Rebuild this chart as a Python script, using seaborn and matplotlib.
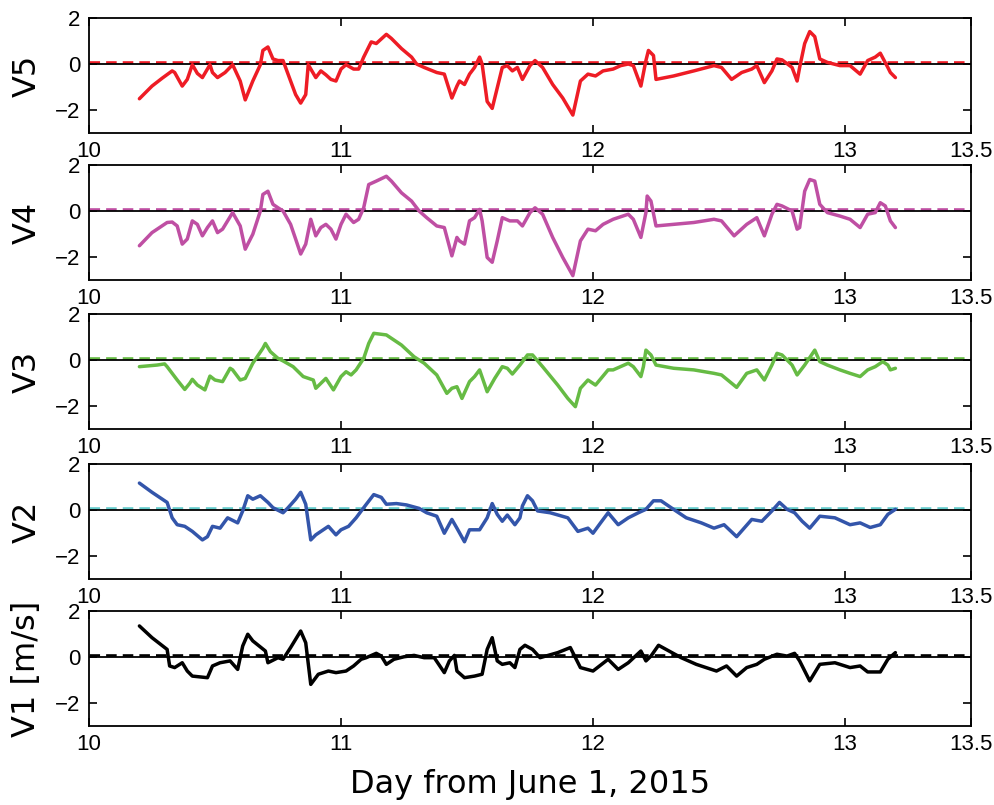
import matplotlib
matplotlib.use("Agg")
import matplotlib.pyplot as plt
import seaborn as sns
import pandas as pd

# ---------------- data (day from June 1, 2015 ; velocity m/s) ----------------
v5_day = [10.20, 10.25, 10.29, 10.33, 10.34, 10.37, 10.39, 10.41, 10.43, 10.45, 10.48, 10.49, 10.51, 10.54,
          10.57, 10.60, 10.62, 10.65, 10.68, 10.69, 10.71, 10.73, 10.75, 10.77, 10.80, 10.82, 10.84, 10.86,
          10.87, 10.90, 10.92, 10.94, 10.96, 10.98, 11.00, 11.02, 11.05, 11.07, 11.09, 11.12, 11.14, 11.18,
          11.20, 11.24, 11.28, 11.30, 11.33, 11.38, 11.41, 11.44, 11.46, 11.47, 11.49, 11.51, 11.53, 11.55,
          11.56, 11.58, 11.60, 11.62, 11.64, 11.66, 11.68, 11.70, 11.72, 11.75, 11.77, 11.80, 11.84, 11.88,
          11.92, 11.95, 11.98, 12.01, 12.04, 12.08, 12.11, 12.14, 12.16, 12.19, 12.21, 12.22, 12.24, 12.25,
          12.32, 12.40, 12.48, 12.51, 12.55, 12.59, 12.63, 12.65, 12.68, 12.71, 12.73, 12.75, 12.79, 12.81,
          12.82, 12.84, 12.86, 12.88, 12.90, 12.93, 12.98, 13.02, 13.06, 13.09, 13.12, 13.14, 13.17, 13.18, 13.20]
v5_val = [-1.51, -0.96, -0.62, -0.30, -0.37, -0.96, -0.67, -0.03, -0.41, -0.59, -0.03, -0.37, -0.59, -0.37,
          -0.03, -0.74, -1.56, -0.74, -0.03, 0.59, 0.74, 0.22, 0.15, 0.15, -0.74, -1.33, -1.70, -1.33,
          -0.03, -0.59, -0.30, -0.47, -0.67, -0.74, -0.22, -0.03, -0.22, -0.22, 0.30, 0.96, 0.89, 1.29,
          1.11, 0.67, 0.30, 0.00, -0.15, -0.37, -0.44, -1.48, -0.96, -0.74, -0.89, -0.44, -0.15, 0.30,
          0.00, -1.63, -1.93, -1.04, -0.15, -0.07, -0.30, -0.15, -0.67, -0.07, 0.15, -0.15, -0.89, -1.48,
          -2.22, -0.74, -0.44, -0.52, -0.30, -0.22, -0.07, 0.00, -0.07, -0.96, 0.15, 0.59, 0.37, -0.67,
          -0.52, -0.30, -0.07, -0.15, -0.67, -0.37, -0.22, -0.07, -0.81, -0.30, 0.22, 0.18, -0.15, -0.74,
          -0.15, 0.89, 1.41, 1.19, 0.22, 0.07, -0.07, -0.07, -0.44, 0.15, 0.30, 0.47, -0.15, -0.37, -0.59]

v4_day = [10.20, 10.25, 10.31, 10.33, 10.35, 10.37, 10.39, 10.41, 10.43, 10.45, 10.47, 10.49, 10.51, 10.53,
          10.57, 10.60, 10.62, 10.65, 10.68, 10.69, 10.71, 10.73, 10.75, 10.77, 10.80, 10.82, 10.84, 10.86,
          10.88, 10.90, 10.92, 10.94, 10.96, 10.98, 11.00, 11.02, 11.05, 11.07, 11.09, 11.11, 11.14, 11.18,
          11.20, 11.24, 11.28, 11.31, 11.34, 11.38, 11.41, 11.44, 11.46, 11.47, 11.49, 11.51, 11.53, 11.55,
          11.56, 11.58, 11.60, 11.62, 11.64, 11.67, 11.70, 11.72, 11.75, 11.77, 11.80, 11.84, 11.88, 11.92,
          11.95, 11.98, 12.01, 12.04, 12.08, 12.14, 12.16, 12.19, 12.21, 12.215, 12.23, 12.25, 12.32, 12.40,
          12.48, 12.51, 12.56, 12.61, 12.65, 12.68, 12.71, 12.73, 12.75, 12.79, 12.81, 12.82, 12.84, 12.86,
          12.88, 12.90, 12.93, 12.98, 13.02, 13.06, 13.09, 13.12, 13.14, 13.16, 13.18, 13.20]
v4_val = [-1.51, -0.94, -0.50, -0.48, -0.65, -1.44, -1.22, -0.43, -0.58, -1.08, -0.72, -0.43, -0.94, -0.79,
          -0.07, -0.65, -1.66, -1.01, 0.00, 0.72, 0.86, 0.29, 0.14, 0.00, -0.58, -1.22, -1.87, -1.44,
          -0.36, -1.08, -0.72, -0.58, -0.79, -1.22, -0.58, -0.14, -0.50, -0.36, 0.14, 1.15, 1.30, 1.51,
          1.30, 0.79, 0.43, 0.00, -0.29, -0.65, -0.72, -1.95, -1.15, -1.30, -1.44, -0.43, -0.29, 0.07,
          -0.43, -2.02, -2.23, -1.30, -0.29, -0.43, -0.43, -0.65, -0.07, 0.14, -0.14, -1.15, -2.02, -2.81,
          -1.30, -0.79, -0.86, -0.58, -0.36, -0.14, -0.36, -1.15, -0.07, 0.65, 0.43, -0.65, -0.58, -0.50,
          -0.36, -0.43, -1.08, -0.58, -0.29, -1.08, -0.14, 0.29, 0.22, 0.00, -0.79, -0.72, 0.86, 1.37,
          1.30, 0.29, -0.07, -0.22, -0.36, -0.72, -0.14, -0.07, 0.36, 0.22, -0.43, -0.72]

v3_day = [10.20, 10.23, 10.27, 10.30, 10.31, 10.35, 10.38, 10.40, 10.41, 10.43, 10.46, 10.48, 10.50, 10.53,
          10.56, 10.57, 10.60, 10.62, 10.65, 10.69, 10.70, 10.72, 10.75, 10.77, 10.81, 10.85, 10.89, 10.90,
          10.94, 10.97, 11.00, 11.02, 11.04, 11.06, 11.09, 11.11, 11.13, 11.18, 11.24, 11.29, 11.33, 11.38,
          11.42, 11.44, 11.46, 11.48, 11.51, 11.53, 11.55, 11.58, 11.61, 11.64, 11.66, 11.68, 11.71, 11.74,
          11.76, 11.80, 11.86, 11.90, 11.93, 11.95, 11.98, 12.01, 12.06, 12.08, 12.14, 12.16, 12.19, 12.20,
          12.21, 12.23, 12.25, 12.32, 12.40, 12.48, 12.51, 12.57, 12.61, 12.65, 12.68, 12.71, 12.73, 12.75,
          12.79, 12.81, 12.84, 12.88, 12.90, 12.93, 12.98, 13.02, 13.06, 13.09, 13.12, 13.15, 13.17, 13.18, 13.20]
v3_val = [-0.29, -0.26, -0.22, -0.17, -0.29, -0.87, -1.28, -1.01, -0.84, -1.09, -1.30, -0.70, -0.87, -0.94,
          -0.36, -0.43, -0.87, -0.80, -0.14, 0.51, 0.72, 0.36, 0.07, -0.04, -0.29, -0.72, -0.87, -1.23,
          -0.80, -1.30, -0.72, -0.51, -0.65, -0.43, 0.07, 0.72, 1.16, 1.09, 0.65, 0.14, -0.14, -0.65,
          -1.45, -1.23, -1.16, -1.67, -0.94, -0.72, -0.43, -1.38, -0.80, -0.29, -0.36, -0.61, -0.22, 0.22,
          0.22, -0.29, -1.09, -1.67, -2.03, -1.23, -0.87, -1.09, -0.43, -0.43, -0.14, -0.29, -0.72, -0.29,
          0.43, 0.22, -0.22, -0.36, -0.43, -0.58, -0.65, -1.19, -0.58, -0.43, -0.87, -0.22, 0.29, 0.22,
          -0.22, -0.65, -0.22, 0.43, -0.07, -0.22, -0.43, -0.58, -0.72, -0.43, -0.29, -0.07, -0.22, -0.43, -0.36]

v2_day = [10.20, 10.25, 10.31, 10.33, 10.35, 10.38, 10.41, 10.45, 10.47, 10.49, 10.52, 10.55, 10.59, 10.61,
          10.63, 10.65, 10.68, 10.71, 10.73, 10.77, 10.79, 10.82, 10.84, 10.86, 10.88, 10.90, 10.95, 10.98,
          11.00, 11.03, 11.06, 11.09, 11.13, 11.16, 11.18, 11.22, 11.26, 11.31, 11.34, 11.38, 11.41, 11.44,
          11.46, 11.49, 11.51, 11.55, 11.58, 11.60, 11.62, 11.64, 11.66, 11.69, 11.71, 11.72, 11.74, 11.76,
          11.78, 11.83, 11.90, 11.94, 11.98, 12.00, 12.03, 12.06, 12.10, 12.14, 12.18, 12.21, 12.24, 12.27,
          12.31, 12.37, 12.43, 12.48, 12.52, 12.57, 12.63, 12.67, 12.71, 12.74, 12.77, 12.80, 12.83, 12.86,
          12.90, 12.96, 13.02, 13.06, 13.10, 13.14, 13.17, 13.20]
v2_val = [1.17, 0.77, 0.33, -0.34, -0.64, -0.71, -0.93, -1.30, -1.16, -0.71, -0.79, -0.34, -0.56, -0.04,
          0.62, 0.47, 0.62, 0.33, 0.10, -0.12, 0.10, 0.47, 0.77, 0.25, -1.30, -1.08, -0.71, -1.08,
          -0.86, -0.71, -0.34, 0.10, 0.67, 0.55, 0.25, 0.28, 0.22, 0.07, -0.12, -0.27, -1.01, -0.41,
          -0.79, -1.38, -0.86, -0.86, -0.34, 0.28, -0.19, -0.49, -0.22, -0.64, -0.34, 0.18, 0.62, 0.40,
          -0.04, -0.12, -0.34, -0.93, -0.79, -1.01, -0.56, -0.12, -0.64, -0.34, -0.12, 0.03, 0.40, 0.40,
          0.10, -0.34, -0.56, -0.79, -0.64, -1.16, -0.41, -0.49, -0.04, 0.33, 0.03, -0.12, -0.49, -0.79,
          -0.27, -0.34, -0.64, -0.56, -0.76, -0.64, -0.19, 0.03]

v1_day = [10.20, 10.25, 10.31, 10.32, 10.34, 10.37, 10.39, 10.41, 10.47, 10.49, 10.52, 10.56, 10.59, 10.61,
          10.63, 10.65, 10.70, 10.71, 10.75, 10.77, 10.80, 10.84, 10.86, 10.88, 10.91, 10.95, 10.98, 11.02,
          11.05, 11.08, 11.10, 11.14, 11.16, 11.18, 11.21, 11.25, 11.29, 11.33, 11.37, 11.41, 11.43, 11.45,
          11.46, 11.49, 11.53, 11.56, 11.58, 11.60, 11.62, 11.64, 11.67, 11.69, 11.71, 11.73, 11.76, 11.79,
          11.86, 11.91, 11.95, 12.00, 12.06, 12.10, 12.14, 12.19, 12.21, 12.23, 12.26, 12.29, 12.35, 12.41,
          12.49, 12.53, 12.57, 12.61, 12.65, 12.68, 12.73, 12.77, 12.80, 12.82, 12.86, 12.90, 12.96, 13.02,
          13.06, 13.09, 13.14, 13.17, 13.20]
v1_val = [1.35, 0.84, 0.33, -0.39, -0.46, -0.25, -0.61, -0.83, -0.90, -0.39, -0.25, -0.17, -0.54, 0.48,
          0.99, 0.70, 0.26, -0.25, -0.03, -0.10, 0.41, 1.13, 0.62, -1.19, -0.75, -0.61, -0.68, -0.61,
          -0.39, -0.10, -0.03, 0.16, 0.04, -0.32, -0.10, 0.01, 0.07, -0.03, -0.03, -0.68, -0.17, 0.07,
          -0.61, -0.90, -0.83, -0.75, 0.33, 0.84, -0.17, -0.32, -0.25, -0.46, 0.33, 0.51, 0.33, -0.03,
          0.19, 0.41, -0.46, -0.61, -0.10, -0.54, -0.25, 0.26, -0.17, 0.04, 0.51, 0.33, -0.03, -0.32,
          -0.61, -0.39, -0.83, -0.46, -0.32, -0.10, 0.12, 0.04, 0.16, -0.17, -1.04, -0.32, -0.25, -0.46,
          -0.39, -0.65, -0.65, -0.10, 0.19]

labels = ["V5", "V4", "V3", "V2", "V1 [m/s]"]
series = [(v5_day, v5_val), (v4_day, v4_val), (v3_day, v3_val), (v2_day, v2_val), (v1_day, v1_val)]
line_colors = ["#ee1c25", "#bf4fa3", "#66bb44", "#3355aa", "#000000"]
dash_colors = ["#ee1c25", "#bf4fa3", "#66bb44", "#66cccc", "#000000"]
xticks = [10, 11, 12, 13, 13.5]
xticklabels = ["10", "11", "12", "13", "13.5"]
yticks = [-2, 0, 2]
xlabel = "Day from June 1, 2015"

# ---------------- figure ----------------
sns.set_style("ticks")
plt.rcParams["font.family"] = ["DejaVu Sans"]

W, H = 995, 805
fig = plt.figure(figsize=(W / 100, H / 100), dpi=100)

tops_px = [18, 165, 314, 464, 611]
ax_h_px = 115
left_px, right_px = 89, 971

tick_font = ["Liberation Sans Narrow", "Liberation Sans", "DejaVu Sans"]

for i, (lab, (d, v)) in enumerate(zip(labels, series)):
    top = tops_px[i]
    ax = fig.add_axes([left_px / W, 1 - (top + ax_h_px) / H,
                       (right_px - left_px) / W, ax_h_px / H])
    df = pd.DataFrame({"day": d, "vel": v})
    ax.axhline(0.07, color=dash_colors[i], lw=1.9, dashes=(4, 2.3), zorder=1)
    ax.axhline(0, color="black", lw=1.3, zorder=2)
    sns.lineplot(data=df, x="day", y="vel", ax=ax, color=line_colors[i], lw=2.5,
                 sort=False, estimator=None, zorder=3)
    ax.set_xlim(10, 13.5)
    ax.set_ylim(-3, 2)
    ax.set_xticks(xticks)
    ax.set_xticklabels(xticklabels)
    ax.set_yticks(yticks)
    ax.set_yticklabels([str(t).replace("-", "\u2212") for t in yticks])
    ax.tick_params(direction="in", length=6, width=1.2, top=True, right=True,
                   labelsize=16, pad=6, colors="black")
    for t in ax.get_xticklabels() + ax.get_yticklabels():
        t.set_family(tick_font)
    for s in ax.spines.values():
        s.set_linewidth(1.3)
        s.set_color("black")
    ax.set_ylabel(lab, fontsize=23, color="black")
    ax.yaxis.set_label_coords(-0.053, 0.5)
    if i == len(labels) - 1:
        ax.set_xlabel(xlabel, fontsize=23, color="black", labelpad=10)
    else:
        ax.set_xlabel("")

fig.savefig("out.png", dpi=100, facecolor="white")
